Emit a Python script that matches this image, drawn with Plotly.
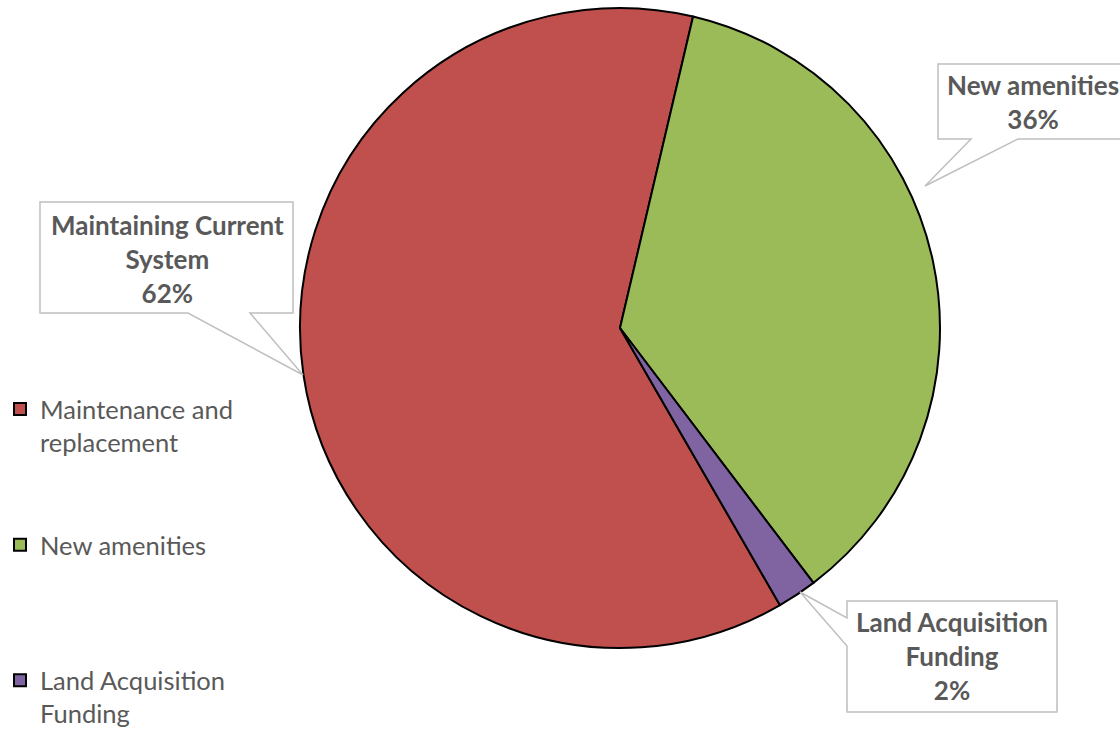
import plotly.graph_objects as go

# ---- data ----
legend_labels = ["Maintenance and replacement", "New amenities", "Land Acquisition Funding"]
callout_labels = ["Maintaining Current System", "New amenities", "Land Acquisition Funding"]
values = [62, 36, 2]
colors = ["#C0504D", "#9BBB59", "#8064A2"]

W, H = 1120, 734
total = sum(values)
pcts = [f"{round(v / total * 100)}%" for v in values]

# legend text wrapped like the original, padded so items are evenly spaced
legend_text = [
    "Maintenance and<br>replacement<br> <br> ",
    "New amenities<br> <br> <br> ",
    "Land Acquisition<br>Funding",
]

fig = go.Figure(
    go.Pie(
        labels=legend_text,
        values=values,
        sort=False,
        direction="clockwise",
        rotation=150,
        marker=dict(colors=colors, line=dict(color="#000000", width=2)),
        textinfo="none",
        hoverinfo="label+percent",
        domain=dict(x=[300 / W, 940 / W], y=[1 - 648 / H, 1 - 8 / H]),
    )
)


def px(x, y):
    return f"{x / W:.5f},{1 - y / H:.5f}"


def path(points):
    return "M" + " L".join(px(x, y) for x, y in points) + " Z"


callouts = [
    [(40, 202), (293, 202), (293, 313), (250, 313), (303, 375), (188, 313), (40, 313)],
    [(938, 64), (1130, 64), (1130, 139), (1018, 139), (925, 186), (971, 139), (938, 139)],
    [(847, 601), (1057, 601), (1057, 712), (847, 712), (847, 646), (800, 592), (847, 618)],
]
shapes = [
    dict(type="path", xref="paper", yref="paper", path=path(p),
         line=dict(color="#BFBFBF", width=1.5), fillcolor="white", layer="above")
    for p in callouts
]

label_pos = [(167, 259), (1033, 102), (952, 656)]
wrapped = ["Maintaining Current<br>System", "New amenities", "Land Acquisition<br>Funding"]
annotations = [
    dict(x=x / W, y=1 - y / H, xref="paper", yref="paper", showarrow=False,
         text=f"<b>{t}<br>{p}</b>", align="center", xanchor="center", yanchor="middle",
         font=dict(family="Lato", size=26, color="#595959"))
    for (x, y), t, p in zip(label_pos, wrapped, pcts)
]

fig.update_layout(
    width=W, height=H,
    autosize=False,
    margin=dict(l=0, r=0, t=0, b=0, autoexpand=False),
    paper_bgcolor="white",
    plot_bgcolor="white",
    font=dict(family="Lato", color="#595959"),
    showlegend=True,
    legend=dict(x=0, y=1 - 386 / H, xanchor="left", yanchor="top",
                valign="top", font=dict(family="Lato", size=25.5, color="#595959"),
                bgcolor="rgba(0,0,0,0)"),
    shapes=shapes,
    annotations=annotations,
)

fig.write_html(
    "out.html",
    config={"responsive": False, "displayModeBar": False},
    post_script="document.body.style.margin='0';",
)
